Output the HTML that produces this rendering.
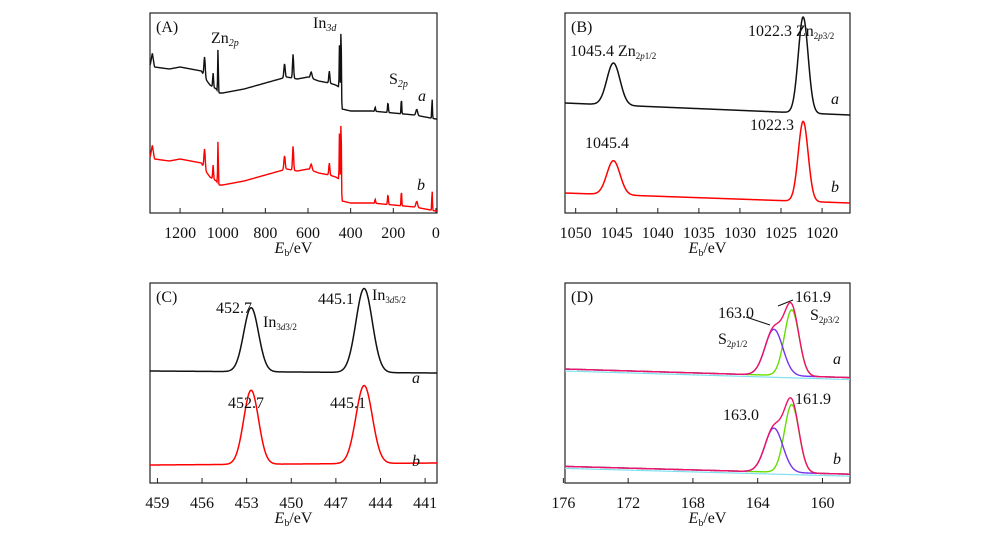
<!DOCTYPE html>
<html><head><meta charset="utf-8">
<style>
html,body{margin:0;padding:0;background:#fff;}
svg{display:block;font-family:"Liberation Serif",serif;}
</style></head>
<body>
<svg id="fig" width="1000" height="540" viewBox="0 0 1000 540"></svg>
<script>
// ---- Panel A (survey) data ----
const surveyBgE = [1340,1330,1320,1250,1200,1150,1100,1080,1060,1030,1020,1000,900,800,700,650,600,550,500,470,455,448,440,400,300,200,100,0];
const surveyBgA = [74,80,73,72,73,72,71,67,64,62,60,60,62,65,68,67,68,66,65,64,63,60,52,51,51,50,49,47];
const surveyPeakE = [1085,1045,1022,710,670,585,500,452,445,285,225,162,90,18];
const surveyPeakHa = [10,7,22,7,12,3,6,24,38,2,5,8,3,10];
const surveyPeakW = [3,2,1.5,3,2.5,4,2.5,1.5,1.5,2,2,1.5,4,1.5];
const surveyOffsetB = -46;
const surveyPeakHb = [10,7,22,7,12,3,6,26,38,2,5,8,3,10];
// ---- Panel B (Zn 2p) ----
const znCenters = [1045.4,1022.3];
const znHa = [21,48];
const znHb = [17,40];
const znSigma = [0.8,0.6];
const znBaseA = [55,49];   // left, right
const znBaseB = [10,5];
// ---- Panel C (In 3d) ----
const inCenters = [452.7,445.1];
const inHa = [32,42];
const inHb = [37,39];
const inSigma = [0.5,0.55];
const inBaseA = [56,55];
const inBaseB = [9,10];
// ---- Panel D (S 2p) ----
const sCenters = [163.0,161.9];
const sHa = [23,33];
const sHb = [22,34];
const sSigma = [0.55,0.45];
const sBaseA = [57,52.7];
const sBaseB = [8.3,4.4];
// ticks
const ticksA = [1200,1000,800,600,400,200,0];
const ticksB = [1050,1045,1040,1035,1030,1025,1020];
const ticksC = [459,456,453,450,447,444,441];
const ticksD = [176,172,168,164,160];

const NS="http://www.w3.org/2000/svg";
const svg=document.getElementById('fig');
function mk(tag,attrs,parent){const e=document.createElementNS(NS,tag);for(const k in attrs)e.setAttribute(k,attrs[k]);(parent||svg).appendChild(e);return e;}

function panel(p){
  const g=mk('g',{});
  
  
  const xs=v=>p.x0+(p.e0-v)/(p.e0-p.e1)*(p.x1-p.x0);
  const ys=v=>p.y1-v*(p.y1-p.y0)/100;
  p.xs=xs;p.ys=ys;p.g=g;
  const fr=mk('rect',{x:p.x0,y:p.y0,width:p.x1-p.x0,height:p.y1-p.y0,fill:'none',stroke:'#222','stroke-width':1.2},g);
  
  
  p.ticks.forEach(t=>{
    const x=xs(t);
    const tk=mk('line',{x1:x,x2:x,y1:p.y1,y2:p.y1-5,stroke:'#222','stroke-width':1},g);
    
    
    const tl=mk('text',{x:x,y:p.y1+25,'text-anchor':'middle','font-size':16,fill:'#111'},g);
    tl.textContent=t;
    
    
  });
  const at=mk('text',{x:(p.x0+p.x1)/2,y:p.y1+40,'text-anchor':'middle','font-size':16,fill:'#111'},g);
  at.innerHTML='<tspan font-style="italic">E</tspan><tspan font-size="10" dy="3">b</tspan><tspan dy="-3">/eV</tspan>';
  
  
  const lb=mk('text',{x:p.x0+6,y:p.y0+19,'font-size':16,fill:'#111'},g);
  lb.textContent=p.label;
  
  
  return p;
}
function path(p,fn,color,name,w){
  let d='';const n=600;
  for(let i=0;i<=n;i++){const e=p.e0+(p.e1-p.e0)*i/n;const v=fn(e);d+=(i?'L':'M')+p.xs(e).toFixed(2)+','+p.ys(v).toFixed(2);}
  const el=mk('path',{d:d,fill:'none',stroke:color,'stroke-width':w||1.5},p.g);
  
  
}
function txt(p,x,y,html,name,size,italic){
  const t=mk('text',{x:x,y:y,'font-size':size||16,fill:'#111'},p.g);
  if(italic)t.setAttribute('font-style','italic');
  t.innerHTML=html;
  
  
}
function gauss(e,c,h,s){return h*Math.exp(-(e-c)*(e-c)/(2*s*s));}
function interp(e,E,V){
  if(e>=E[0])return V[0];
  for(let i=0;i<E.length-1;i++){if(e<=E[i]&&e>=E[i+1]){const t=(E[i]-e)/(E[i]-E[i+1]);return V[i]+t*(V[i+1]-V[i]);}}
  return V[V.length-1];
}
function lin(e,p,b){return b[0]+(p.e0-e)/(p.e0-p.e1)*(b[1]-b[0]);}

// Panel A
const A=panel({name:'panel-a-survey',label:'(A)',x0:150,x1:437,y0:13,y1:213,e0:1341,e1:-5,ticks:ticksA});
path(A,e=>{let v=interp(e,surveyBgE,surveyBgA);surveyPeakE.forEach((c,i)=>v+=gauss(e,c,surveyPeakHa[i],surveyPeakW[i]));return v;},'#111','survey-curve-a',1.4);
path(A,e=>{let v=interp(e,surveyBgE,surveyBgA)+surveyOffsetB;surveyPeakE.forEach((c,i)=>v+=gauss(e,c,surveyPeakHb[i],surveyPeakW[i]));return v;},'#f00','survey-curve-b',1.4);
txt(A,211,43,'Zn<tspan font-size="10" dy="3" font-style="italic">2p</tspan>','label-zn2p');
txt(A,313,28,'In<tspan font-size="10" dy="3" font-style="italic">3d</tspan>','label-in3d');
txt(A,389,84,'S<tspan font-size="10" dy="3" font-style="italic">2p</tspan>','label-s2p');
txt(A,418,101,'a','label-a',16,true);
txt(A,417,190,'b','label-b',16,true);

// Panel B
const B=panel({name:'panel-b-zn2p',label:'(B)',x0:565,x1:850,y0:13,y1:213,e0:1051.3,e1:1016.6,ticks:ticksB});
path(B,e=>{let v=lin(e,B,znBaseA);znCenters.forEach((c,i)=>v+=gauss(e,c,znHa[i],znSigma[i]));return v;},'#111','zn-curve-a');
path(B,e=>{let v=lin(e,B,znBaseB);znCenters.forEach((c,i)=>v+=gauss(e,c,znHb[i],znSigma[i]));return v;},'#f00','zn-curve-b');
txt(B,570,56,'1045.4 Zn<tspan font-size="9" dy="3">2<tspan font-style="italic">p</tspan>1/2</tspan>','label-zn2p12');
txt(B,748,36,'1022.3 Zn<tspan font-size="9" dy="3">2<tspan font-style="italic">p</tspan>3/2</tspan>','label-zn2p32');
txt(B,585,148,'1045.4','label-b-1045');
txt(B,750,130,'1022.3','label-b-1022');
txt(B,831,104,'a','label-a',16,true);
txt(B,831,192,'b','label-b',16,true);

// Panel C
const C=panel({name:'panel-c-in3d',label:'(C)',x0:150,x1:437,y0:283,y1:483,e0:459.5,e1:440.2,ticks:ticksC});
path(C,e=>{let v=lin(e,C,inBaseA);inCenters.forEach((c,i)=>v+=gauss(e,c,inHa[i],inSigma[i]));return v;},'#111','in-curve-a');
path(C,e=>{let v=lin(e,C,inBaseB);inCenters.forEach((c,i)=>v+=gauss(e,c,inHb[i],inSigma[i]));return v;},'#f00','in-curve-b');
txt(C,216,313,'452.7','label-4527');
txt(C,263,327,'In<tspan font-size="9" dy="3">3<tspan font-style="italic">d</tspan>3/2</tspan>','label-in3d32');
txt(C,318,304,'445.1','label-4451');
txt(C,372,300,'In<tspan font-size="9" dy="3">3<tspan font-style="italic">d</tspan>5/2</tspan>','label-in3d52');
txt(C,412,383,'a','label-a',16,true);
txt(C,412,466,'b','label-b',16,true);
txt(C,228,408,'452.7','label-b-4527');
txt(C,330,408,'445.1','label-b-4451');

// Panel D
const D=panel({name:'panel-d-s2p',label:'(D)',x0:565,x1:850,y0:283,y1:483,e0:175.9,e1:158.3,ticks:ticksD});
const sets=[[sBaseA,sHa],[sBaseB,sHb]];
sets.forEach((s,k)=>{
  const tag=k?'b':'a';
  path(D,e=>lin(e,D,s[0])-1,'#7fe0f0','s-baseline-'+tag,1.2);
  path(D,e=>lin(e,D,s[0])+gauss(e,sCenters[1],s[1][1],sSigma[1]),'#66dd00','s-fit-2p32-'+tag,1.4);
  path(D,e=>lin(e,D,s[0])+gauss(e,sCenters[0],s[1][0],sSigma[0]),'#7733ee','s-fit-2p12-'+tag,1.4);
  path(D,e=>{let v=lin(e,D,s[0]);sCenters.forEach((c,i)=>v+=gauss(e,c,s[1][i],sSigma[i]));return v;},'#ee1166','s-envelope-'+tag,1.4);
});
txt(D,718,318,'163.0','label-1630');
txt(D,718,344,'S<tspan font-size="9" dy="3">2<tspan font-style="italic">p</tspan>1/2</tspan>','label-s2p12');
txt(D,795,302,'161.9','label-1619');
txt(D,810,320,'S<tspan font-size="9" dy="3">2<tspan font-style="italic">p</tspan>3/2</tspan>','label-s2p32');
const l1=mk('line',{x1:746,y1:317,x2:770,y2:325,stroke:'#111','stroke-width':1},D.g);


const l2=mk('line',{x1:793,y1:300,x2:778,y2:306,stroke:'#111','stroke-width':1},D.g);


txt(D,833,364,'a','label-a',16,true);
txt(D,833,464,'b','label-b',16,true);
txt(D,723,420,'163.0','label-b-1630');
txt(D,795,404,'161.9','label-b-1619');
</script>
</body></html>
